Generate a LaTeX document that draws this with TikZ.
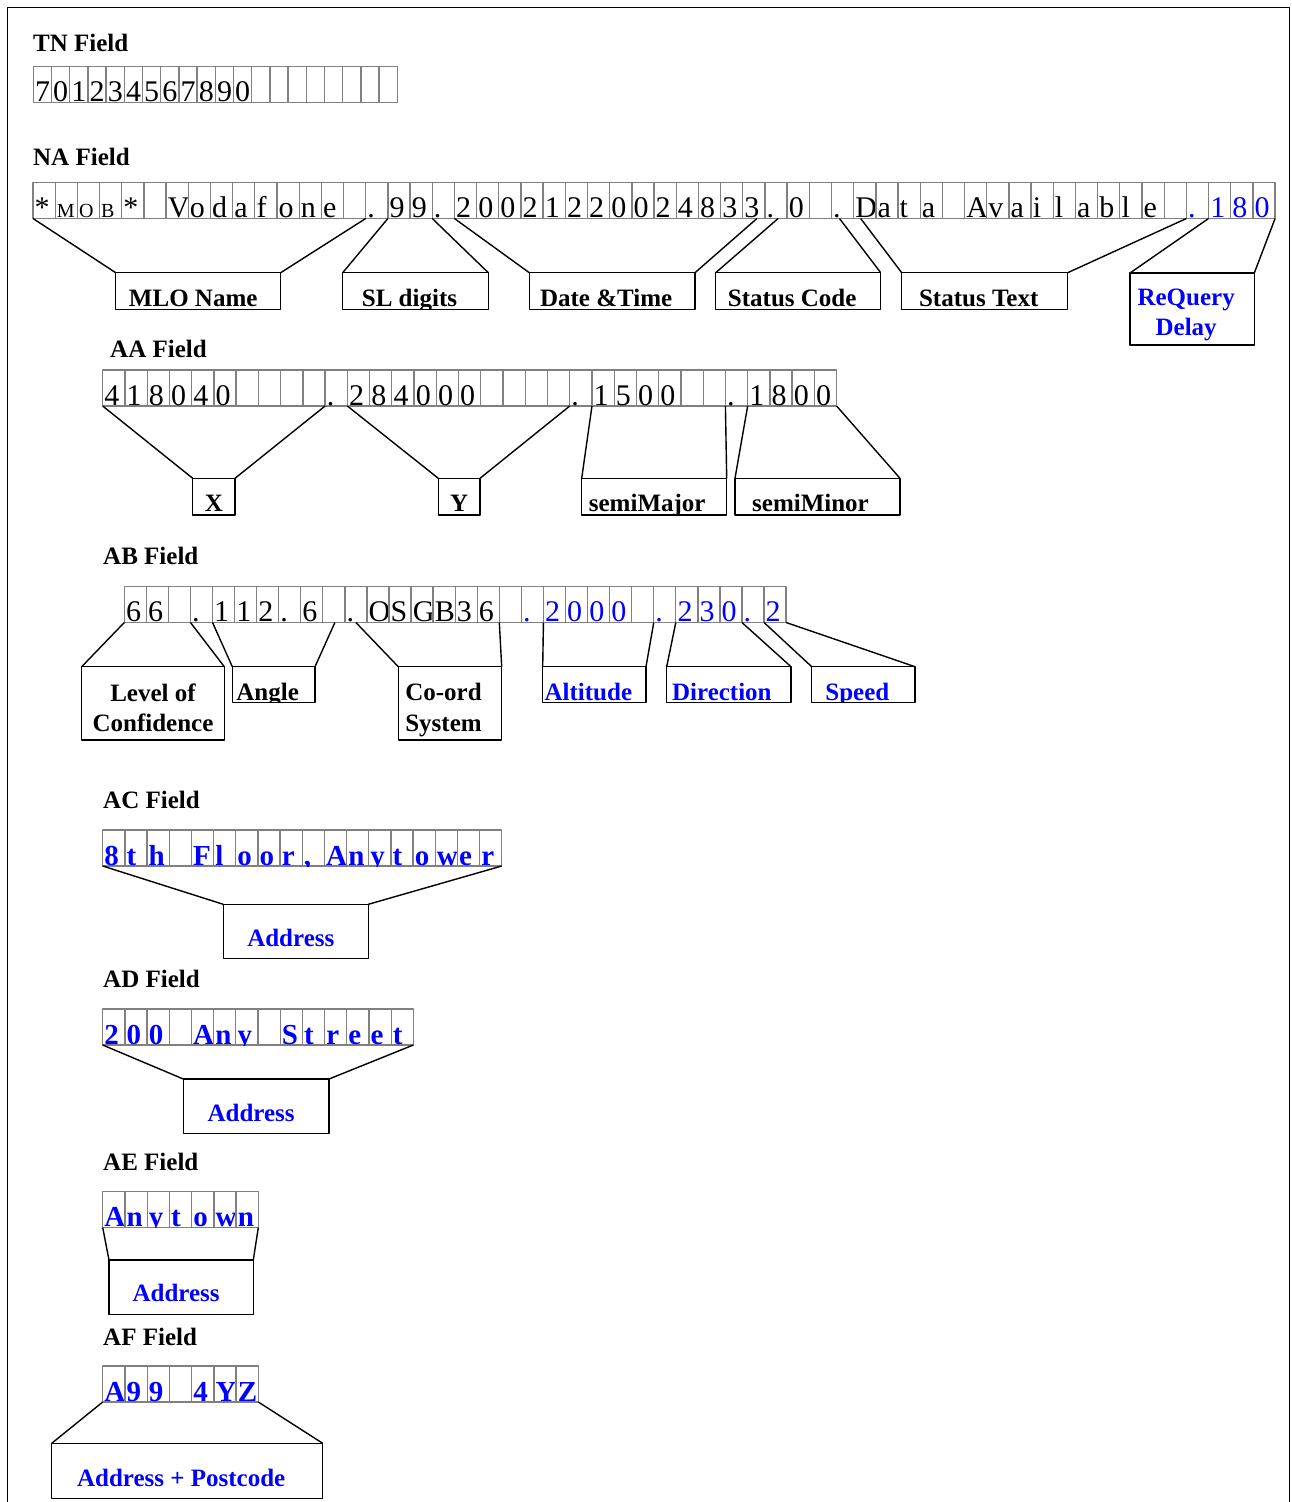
\documentclass[tikz,border=0pt]{standalone}
\usepackage{fontspec}
\setmainfont{Liberation Serif}
\newcommand{\smcap}{\fontsize{20}{20}\selectfont}
\newcommand{\bluech}{\color{blue}}
\tikzset{cell/.style={draw=black!50,line width=1.3pt},
  celltxt/.style={anchor=base west,inner sep=0pt,font=\fontsize{30}{30}\selectfont},
  cellbold/.style={celltxt,text=blue,font=\bfseries\fontsize{29}{29}\selectfont},
  tag/.style={inner sep=0pt,outer sep=0pt,anchor=north west},
  tagtxt/.style={anchor=base,inner sep=0pt,font=\bfseries\fontsize{25}{25}\selectfont},
  tagblue/.style={tagtxt,text=blue},
  head/.style={anchor=base west,inner sep=0pt,font=\bfseries\fontsize{25}{25}\selectfont},
  link/.style={line width=1.4pt}}
% one row of character cells: name, x0, top, cell width, text style, characters
\newcommand{\fieldrow}[6]{%
  \coordinate (#1-0) at (#2,#3+36);
  \foreach \ch [count=\i] in {#6}{%
    \draw[cell] ({#2+(\i-1)*#4},#3) rectangle ({#2+\i*#4},#3+36);
    \begin{scope}
      \clip ({#2+(\i-1)*#4},#3) rectangle ({#2+\i*#4},#3+36);
      \node[#5] (#1-c\i) at ({#2+(\i-1)*#4+1.5},#3+35) {\ch};
    \end{scope}
    \coordinate (#1-\i) at ({#2+\i*#4},#3+36);
  }}
% label box: name, x, y (top left), width, height, text nodes
\newcommand{\tagbox}[6]{%
  \node[tag,minimum width=#4pt,minimum height=#5pt] (#1) at (#2,#3) {};
  \begin{scope}
    \clip (#1.south west) rectangle (#1.north east);
    #6
  \end{scope}
  \draw[link] (#1.south west) rectangle (#1.north east);}

\begin{document}
\begin{tikzpicture}[x=1pt,y=-1pt,line join=round]
\useasboundingbox (0,0) rectangle (1291,1502);
\draw[line width=1.3pt] (7.3,1510) -- (7.3,7.3) -- (1289.3,7.3) -- (1289.3,1510);
% --- TN
\node[head] (tn-h) at (33,51) {TN Field};
\fieldrow{tn}{33.3}{66.7}{18.2}{celltxt}{7,0,1,2,3,4,5,6,7,8,9,0,{},{},{},{},{},{},{},{}}
% --- NA
\node[head] (na-h) at (33,165) {NA Field};
\fieldrow{na}{33}{182.5}{22.18}{celltxt}{*,{\smcap M},{\smcap O},{\smcap B},*,{},V,o,d,a,f,o,n,e,{},.,9,9,.,2,0,0,2,1,2,2,0,0,2,4,8,3,3,.,0,{},.,D,a,t,a,{},A,v,a,i,l,a,b,l,e,{},{\bluech .},{\bluech 1},{\bluech 8},{\bluech 0}}
\tagbox{mlo}{115.7}{272.7}{165}{36.6}{\node[tagtxt] (mlo-t) at ([xshift=-5pt,yshift=2.5pt]mlo.south) {MLO Name};}
\tagbox{sld}{342.7}{272.7}{145.6}{36.6}{\node[tagtxt] (sld-t) at ([xshift=-6pt,yshift=2.5pt]sld.south) {SL digits};}
\tagbox{dtm}{529.3}{272.7}{165.7}{36.6}{\node[tagtxt] (dtm-t) at ([xshift=-6pt,yshift=2.5pt]dtm.south) {Date \&Time};}
\tagbox{scd}{715.7}{272.7}{165}{36.6}{\node[tagtxt] (scd-t) at ([xshift=-6pt,yshift=2.5pt]scd.south) {Status Code};}
\tagbox{stx}{901.7}{272.7}{166}{36.6}{\node[tagtxt] (stx-t) at ([xshift=-6pt,yshift=2.5pt]stx.south) {Status Text};}
\tagbox{rqd}{1130}{273}{124.3}{72}{\node[tagblue] (rqd-t) at ([xshift=-6pt,yshift=40pt]rqd.south) {ReQuery};
  \node[tagblue] (rqd-b) at ([xshift=-6pt,yshift=9.3pt]rqd.south) {Delay};}
\draw[link] (na-0) -- (mlo.north west) (na-15) -- (mlo.north east);
\draw[link] (na-16) -- (sld.north west) (na-18) -- (sld.north east);
\draw[link] (na-19) -- (dtm.north west) ([xshift=-8pt]na-33) -- (dtm.north east);
\draw[link] ([xshift=-9pt]na-34) -- (scd.north west) ([xshift=8pt]na-36) -- (scd.north east);
\draw[link] ([xshift=7pt]na-37) -- (stx.north west) (na-52) -- (stx.north east);
\draw[link] (na-53) -- (rqd.north west) (na-56) -- (rqd.north east);
% --- AA
\node[head] (aa-h) at (110,357) {AA Field};
\fieldrow{aa}{102.7}{370}{22.24}{celltxt}{4,1,8,0,4,0,{},{},{},{},.,2,8,4,0,0,0,{},{},{},{},.,1,5,0,0,{},{},.,1,8,0,0}
\tagbox{xco}{192.7}{478.3}{42.3}{36.7}{\node[tagtxt] (xco-t) at ([yshift=3.3pt]xco.south) {X};}
\tagbox{yco}{438.3}{478.3}{41.7}{36.7}{\node[tagtxt] (yco-t) at ([yshift=3.3pt]yco.south) {Y};}
\tagbox{smj}{581.7}{478.3}{145}{36.7}{\node[tagtxt] (smj-t) at ([xshift=-7pt,yshift=3.3pt]smj.south) {semiMajor};}
\tagbox{smn}{735}{478.3}{165}{36.7}{\node[tagtxt] (smn-t) at ([xshift=-7pt,yshift=3.3pt]smn.south) {semiMinor};}
\draw[link] (aa-0) -- (xco.north west) (aa-10) -- (xco.north east);
\draw[link] (aa-11) -- (yco.north west) (aa-21) -- (yco.north east);
\draw[link] (aa-22) -- (smj.north west) (aa-28) -- (smj.north east);
\draw[link] (aa-29) -- (smn.north west) (aa-33) -- (smn.north east);
% --- AB
\node[head] (ab-h) at (103,564) {AB Field};
\fieldrow{ab}{124.3}{586.5}{22.06}{celltxt}{6,6,{},.,1,1,2,.,6,{},.,O,S,G,B,3,6,{},{\bluech .},{\bluech 2},{\bluech 0},{\bluech 0},{\bluech 0},{},{\bluech .},{\bluech 2},{\bluech 3},{\bluech 0},{\bluech .},{\bluech 2}}
\tagbox{loc}{81.7}{666.7}{142.6}{73.3}{\node[tagtxt] (loc-t) at ([yshift=38.3pt]loc.south) {Level of};
  \node[tagtxt] (loc-b) at ([yshift=8.3pt]loc.south) {Confidence};}
\tagbox{ang}{232.3}{666.7}{82.7}{36}{\node[tagtxt] (ang-t) at ([xshift=-6pt,yshift=2.7pt]ang.south) {Angle};}
\tagbox{crd}{398.3}{666.7}{103.4}{73.3}{\node[tagtxt] (crd-t) at ([xshift=-6.5pt,yshift=40pt]crd.south) {Co-ord};
  \node[tagtxt] (crd-b) at ([xshift=-6.5pt,yshift=9pt]crd.south) {System};}
\tagbox{alt}{542.7}{666.7}{103.3}{36}{\node[tagblue] (alt-t) at ([xshift=-6pt,yshift=2.7pt]alt.south) {Altitude};}
\tagbox{dir}{666.7}{666.7}{124.3}{36}{\node[tagblue] (dir-t) at ([xshift=-7pt,yshift=2.7pt]dir.south) {Direction};}
\tagbox{spd}{811.7}{666.7}{103.3}{36}{\node[tagblue] (spd-t) at ([xshift=-6pt,yshift=2.7pt]spd.south) {Speed};}
\draw[link] (ab-0) -- (loc.north west) (ab-3) -- (loc.north east);
\draw[link] (ab-4) -- (ang.north west) ([xshift=-10pt]ab-10) -- (ang.north east);
\draw[link] ([xshift=11pt]ab-10) -- (crd.north west) (ab-17) -- (crd.north east);
\draw[link] (ab-19) -- (alt.north west) (ab-24) -- (alt.north east);
\draw[link] (ab-25) -- (dir.north west) (ab-28) -- (dir.north east);
\draw[link] (ab-29) -- (spd.north west) (ab-30) -- (spd.north east);
% --- AC
\node[head] (ac-h) at (103,808) {AC Field};
\fieldrow{ac}{102.7}{830}{22.17}{cellbold}{8,t,h,{},F,l,o,o,r,{,},A,n,y,t,o,w,e,r}
\tagbox{adc}{223.3}{904.3}{145}{54}{\node[tagblue] (adc-t) at ([xshift=-5pt,yshift=11.6pt]adc.south) {Address};}
\draw[link] (ac-0) -- (adc.north west) (ac-18) -- (adc.north east);
% --- AD
\node[head] (ad-h) at (103,987) {AD Field};
\fieldrow{ad}{102.7}{1009}{22.19}{cellbold}{2,0,0,{},A,n,y,{},S,t,r,e,e,t}
\tagbox{add}{183.3}{1079}{145.7}{54.3}{\node[tagblue] (add-t) at ([xshift=-5pt,yshift=11.6pt]add.south) {Address};}
\draw[link] (ad-0) -- (add.north west) (ad-14) -- (add.north east);
% --- AE
\node[head] (ae-h) at (103,1170) {AE Field};
\fieldrow{ae}{102.7}{1191.5}{22.23}{cellbold}{A,n,y,t,o,w,n}
\tagbox{ade}{109}{1260}{144.3}{54.3}{\node[tagblue] (ade-t) at ([xshift=-5pt,yshift=12.6pt]ade.south) {Address};}
\draw[link] (ae-0) -- (ade.north west) (ae-7) -- (ade.north east);
% --- AF
\node[head] (af-h) at (103,1345) {AF Field};
\fieldrow{af}{102.7}{1366}{22.23}{cellbold}{A,9,9,{},4,Y,Z}
\tagbox{adf}{51.7}{1443.3}{271}{55}{\node[tagblue] (adf-t) at ([xshift=-6pt,yshift=12.3pt]adf.south) {Address + Postcode};}
\draw[link] (af-0) -- (adf.north west) (af-7) -- (adf.north east);
\end{tikzpicture}
\end{document}
